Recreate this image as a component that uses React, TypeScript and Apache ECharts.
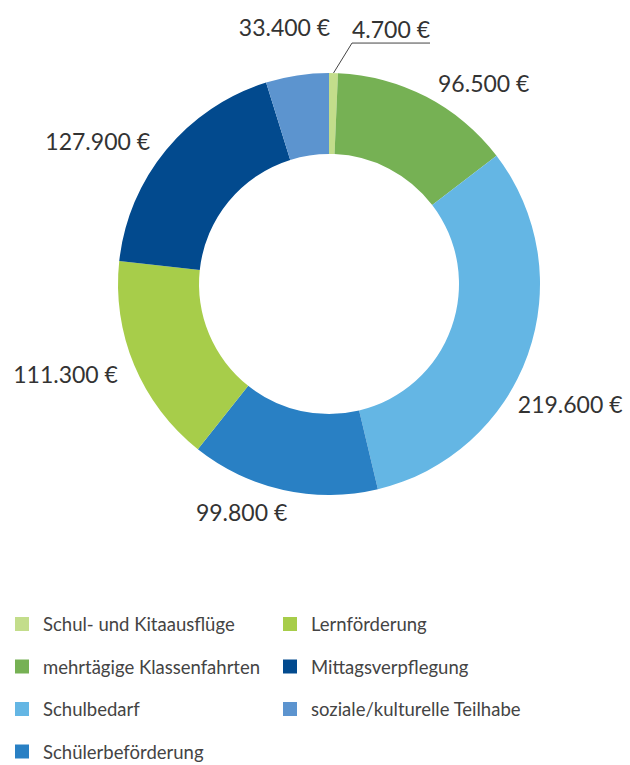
import React, { useEffect, useRef } from 'react';
import * as echarts from 'echarts';

const categories = [
  'Schul- und Kitaausflüge',
  'mehrtägige Klassenfahrten',
  'Schulbedarf',
  'Schülerbeförderung',
  'Lernförderung',
  'Mittagsverpflegung',
  'soziale/kulturelle Teilhabe',
];
const values = [4700, 96500, 219600, 99800, 111300, 127900, 33400];
const colors = ['#c3dd8b', '#76b154', '#64b6e4', '#2980c4', '#a7cd4a', '#024a8e', '#5c94cf'];
const legendLeft = categories.slice(0, 4);
const legendRight = categories.slice(4);

// label offsets from the outer-edge anchor of each slice: [dx, dy, align]
const labelNudges: [number, number, string][] = [
  [18.5, -30, 'left'],
  [11.6, -14.3, 'left'],
  [-10, 49, 'left'],
  [4, 22.5, 'right'],
  [-16.4, 8.6, 'right'],
  [-16, -9, 'right'],
  [33, -48, 'right'],
];

const fmt = (v: number) => String(v).replace(/\B(?=(\d{3})+(?!\d))/g, '.') + ' €';

export default function App() {
  const ref = useRef<HTMLDivElement>(null);
  useEffect(() => {
    if (!ref.current) return;
    const chart = echarts.init(ref.current, null, { renderer: 'svg' });
    const legendBase = {
      orient: 'vertical',
      top: 614,
      height: 200,
      padding: 0,
      itemWidth: 14,
      itemHeight: 14,
      itemGap: 22.5,
      icon: 'rect',
      selectedMode: false,
      textStyle: {
        fontSize: 18.5,
        fontFamily: 'Lato',
        color: '#444',
        lineHeight: 20,
        padding: [0, 0, 0, 9],
      },
    };
    chart.setOption({
      animation: false,
      color: colors,
      legend: [
        { ...legendBase, data: legendLeft, left: 15 },
        { ...legendBase, data: legendRight, left: 283 },
      ],
      series: [
        {
          type: 'pie',
          center: [329, 284],
          radius: [130, 211],
          startAngle: 90,
          clockwise: true,
          avoidLabelOverlap: false,
          emphasis: { disabled: true },
          label: {
            show: true,
            position: 'outside',
            formatter: (p: any) => fmt(p.value),
            fontSize: 23,
            fontFamily: 'Lato',
            color: '#333',
          },
          labelLine: {
            show: true,
            length: 10,
            length2: 0,
            lineStyle: { color: '#444', width: 1 },
          },
          labelLayout: (p: any) => {
            const pts = p.labelLinePoints;
            if (!pts) return {};
            const a = pts[0];
            const n = labelNudges[p.dataIndex];
            if (p.dataIndex === 0) {
              const bx = a[0] + n[0];
              const by = a[1] + n[1];
              return {
                x: bx,
                y: by - 3,
                align: 'left',
                verticalAlign: 'bottom',
                labelLinePoints: [
                  [a[0], a[1]],
                  [bx, by],
                  [bx + p.labelRect.width, by],
                ],
              };
            }
            return { x: a[0] + n[0], y: a[1] + n[1], align: n[2], verticalAlign: 'middle' };
          },
          data: categories.map((name, i) => ({
            name,
            value: values[i],
            labelLine: i === 0 ? undefined : { lineStyle: { opacity: 0 } },
          })),
        },
      ],
    });
    return () => chart.dispose();
  }, []);
  return (
    <div
      ref={ref}
      style={{ position: 'fixed', left: 0, top: 0, width: 630, height: 765, background: '#fff' }}
    />
  );
}
